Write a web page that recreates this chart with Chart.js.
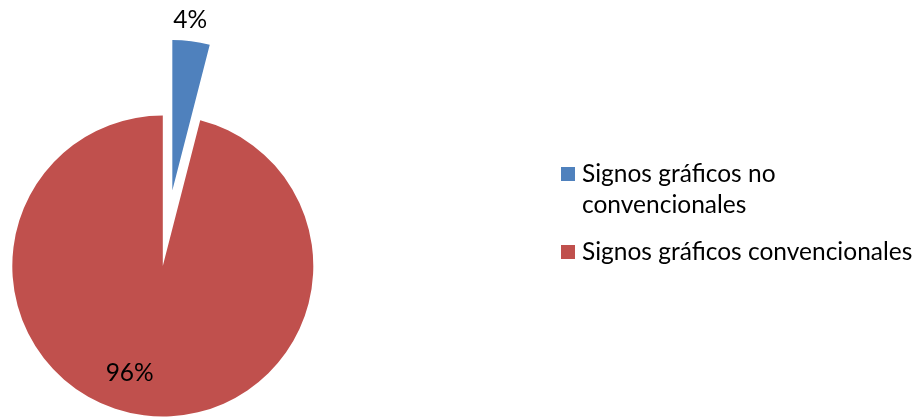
<!DOCTYPE html>
<html>
<head>
<meta charset="utf-8">
<style>
  html, body { margin: 0; padding: 0; background: #ffffff; }
  #wrap { position: relative; width: 917px; height: 417px; overflow: hidden; }
</style>
<script src="https://cdn.jsdelivr.net/npm/chart.js@4"></script>
</head>
<body>
<div id="wrap"><canvas id="chart" width="917" height="417"></canvas></div>
<script>
// Share of graphic signs used
const categories = ['Signos gráficos no convencionales', 'Signos gráficos convencionales'];
const shares = [4, 96];
const sliceLabels = ['4%', '96%'];
const sliceColors = ['#4F81BD', '#C0504D'];

const FONT = 'Lato, "Open Sans", sans-serif';

// Pulls exploded slices away from the centre along their bisector
const explodePlugin = {
  id: 'explode',
  afterDatasetsUpdate(chart, args, opts) {
    const meta = chart.getDatasetMeta(0);
    meta.data.forEach((arc, i) => {
      const d = (opts.distances || [])[i] || 0;
      const mid = (arc.startAngle + arc.endAngle) / 2;
      arc.x += Math.cos(mid) * d;
      arc.y += Math.sin(mid) * d;
    });
  }
};

// Percentage text placed relative to each slice
const sliceTextPlugin = {
  id: 'sliceText',
  afterDatasetsDraw(chart, args, opts) {
    const ctx = chart.ctx;
    const meta = chart.getDatasetMeta(0);
    ctx.save();
    ctx.font = opts.font;
    ctx.fillStyle = '#000000';
    ctx.textAlign = 'center';
    ctx.textBaseline = 'middle';
    meta.data.forEach((arc, i) => {
      const p = opts.place[i];
      const mid = (arc.startAngle + arc.endAngle) / 2 + p.turn * Math.PI / 180;
      const r = arc.outerRadius * p.factor + p.extra;
      ctx.fillText(sliceLabels[i], arc.x + Math.cos(mid) * r, arc.y + Math.sin(mid) * r);
    });
    ctx.restore();
  }
};

// Legend on the right with word-wrapped entries
const sideLegendPlugin = {
  id: 'sideLegend',
  afterDraw(chart, args, opts) {
    const ctx = chart.ctx;
    ctx.save();
    ctx.font = opts.font;
    ctx.textBaseline = 'middle';
    ctx.textAlign = 'left';
    let y = opts.top;
    chart.data.labels.forEach((label, i) => {
      const words = label.split(' ');
      const lines = [];
      let line = '';
      words.forEach(w => {
        const test = line ? line + ' ' + w : w;
        if (line && ctx.measureText(test).width > opts.maxWidth) {
          lines.push(line);
          line = w;
        } else {
          line = test;
        }
      });
      if (line) lines.push(line);
      ctx.fillStyle = chart.data.datasets[0].backgroundColor[i];
      ctx.fillRect(opts.x, y - opts.box / 2, opts.box, opts.box);
      ctx.fillStyle = '#000000';
      lines.forEach((ln, k) => {
        ctx.fillText(ln, opts.x + opts.box + opts.gap, y + k * opts.lineHeight);
      });
      y += (lines.length - 1) * opts.lineHeight + opts.itemGap;
    });
    ctx.restore();
  }
};

new Chart(document.getElementById('chart'), {
  type: 'pie',
  data: {
    labels: categories,
    datasets: [{
      data: shares,
      backgroundColor: sliceColors,
      borderWidth: 0,
      clip: false
    }]
  },
  options: {
    responsive: false,
    animation: false,
    radius: 150.5,
    layout: { padding: { left: 0, right: 917 - 325.6, top: 115, bottom: 0 } },
    plugins: {
      legend: { display: false },
      tooltip: { enabled: false },
      explode: { distances: [76, 0] },
      sliceText: {
        font: '24.5px ' + FONT,
        place: [
          { factor: 1, extra: 21, turn: -1.2 },
          { factor: 0, extra: 112, turn: 10 }
        ]
      },
      sideLegend: {
        font: '24.5px ' + FONT,
        x: 561, top: 174, box: 14, gap: 7,
        lineHeight: 31, itemGap: 47, maxWidth: 350
      }
    }
  },
  plugins: [explodePlugin, sliceTextPlugin, sideLegendPlugin]
});
</script>
</body>
</html>
